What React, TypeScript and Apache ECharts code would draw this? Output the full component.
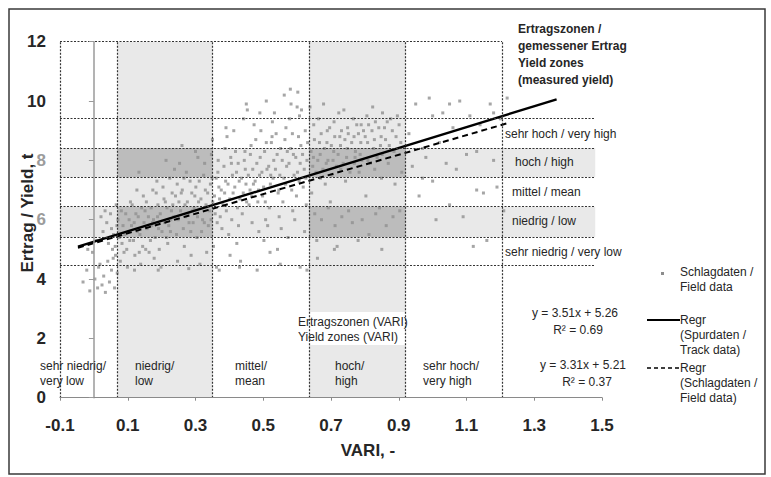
import React, { useEffect, useRef } from "react";
import * as echarts from "echarts";

// ---------- data ----------
const fieldData: [number, number][] = [
  // VARI < 0.07
  [-0.032, 3.9], [-0.021, 4.3], [-0.012, 3.6], [0.003, 4.0], [0.011, 3.7], [0.018, 4.5], [0.024, 3.8], [0.029, 4.1],
  [0.034, 3.55], [0.041, 4.6], [0.046, 3.9], [0.052, 4.3], [0.055, 5.0], [0.061, 3.7], [0.064, 4.8], [-0.004, 4.9],
  [0.008, 5.3], [0.027, 5.6], [0.038, 5.9], [0.049, 6.2], [0.058, 5.5], [0.021, 6.1], [0.066, 6.5], [0.043, 5.2],
  [0.057, 4.7], [-0.018, 5.0], [0.069, 4.2], [0.068, 5.8], [0.014, 4.4], [0.033, 6.3],
  // 0.07 - 0.35
  [0.078, 4.6], [0.083, 5.2], [0.086, 5.8], [0.081, 6.3], [0.089, 4.9],
  [0.097, 5.0], [0.102, 5.6], [0.104, 6.0], [0.099, 4.4], [0.108, 6.6],
  [0.117, 5.3], [0.121, 4.8], [0.124, 6.2], [0.119, 5.9], [0.127, 7.0],
  [0.136, 5.5], [0.141, 6.4], [0.138, 4.5], [0.144, 5.1], [0.146, 6.8], [0.133, 7.6],
  [0.157, 5.7], [0.161, 6.1], [0.163, 4.9], [0.155, 6.6], [0.167, 5.3],
  [0.176, 6.0], [0.181, 5.4], [0.184, 6.9], [0.178, 4.7], [0.186, 7.3], [0.173, 5.9],
  [0.196, 6.2], [0.201, 5.6], [0.204, 7.1], [0.198, 4.4], [0.207, 6.7], [0.193, 5.0],
  [0.216, 6.4], [0.221, 5.8], [0.224, 7.4], [0.218, 5.2], [0.227, 6.0], [0.213, 8.0],
  [0.236, 6.1], [0.241, 6.8], [0.244, 5.5], [0.238, 7.7], [0.247, 4.6], [0.233, 6.5],
  [0.256, 6.3], [0.261, 7.0], [0.264, 5.7], [0.258, 6.9], [0.267, 5.1], [0.253, 7.9],
  [0.276, 6.6], [0.281, 5.9], [0.284, 7.3], [0.278, 6.2], [0.287, 4.8], [0.273, 7.6],
  [0.296, 6.4], [0.301, 7.1], [0.304, 5.4], [0.298, 6.8], [0.307, 8.1], [0.293, 5.9],
  [0.316, 6.7], [0.321, 6.0], [0.324, 7.5], [0.318, 5.6], [0.327, 7.9], [0.313, 4.5],
  [0.336, 6.9], [0.341, 6.3], [0.344, 7.2], [0.338, 5.8], [0.347, 8.2], [0.333, 4.9],
  // 0.35 - 0.635
  [0.356, 6.8], [0.361, 7.4], [0.364, 5.9], [0.358, 6.2], [0.367, 8.0], [0.353, 5.1], [0.362, 4.4],
  [0.376, 7.0], [0.381, 6.5], [0.384, 7.8], [0.378, 5.7], [0.387, 8.4], [0.373, 6.1],
  [0.396, 7.2], [0.401, 6.7], [0.404, 8.1], [0.398, 5.5], [0.407, 6.0], [0.393, 8.8], [0.402, 4.8],
  [0.416, 7.1], [0.421, 7.6], [0.424, 6.4], [0.418, 8.3], [0.427, 5.8], [0.413, 9.0], [0.422, 5.2],
  [0.436, 7.4], [0.441, 6.9], [0.444, 8.0], [0.438, 6.2], [0.447, 7.7], [0.433, 4.6], [0.442, 9.4],
  [0.456, 7.5], [0.461, 7.0], [0.464, 8.5], [0.458, 6.5], [0.467, 5.9], [0.453, 9.7], [0.462, 8.2],
  [0.476, 7.3], [0.481, 7.9], [0.484, 6.6], [0.478, 8.7], [0.487, 5.6], [0.473, 9.2], [0.482, 4.3],
  [0.496, 7.6], [0.501, 7.1], [0.504, 8.3], [0.498, 6.8], [0.507, 6.0], [0.493, 9.0], [0.502, 5.3], [0.509, 10.0],
  [0.516, 7.8], [0.521, 7.2], [0.524, 8.6], [0.518, 6.4], [0.527, 9.3], [0.513, 5.8], [0.522, 7.5],
  [0.536, 7.7], [0.541, 8.2], [0.544, 6.9], [0.538, 8.9], [0.547, 6.1], [0.533, 9.6], [0.542, 5.0],
  [0.556, 8.0], [0.561, 7.4], [0.564, 8.7], [0.558, 6.6], [0.567, 9.1], [0.553, 5.7], [0.562, 10.2],
  [0.576, 7.9], [0.581, 8.4], [0.584, 7.0], [0.578, 9.4], [0.587, 6.3], [0.573, 5.4], [0.582, 9.9],
  [0.596, 8.1], [0.601, 7.6], [0.604, 8.8], [0.598, 6.8], [0.607, 9.5], [0.593, 6.0], [0.602, 10.3], [0.609, 4.4],
  [0.616, 8.2], [0.621, 7.7], [0.624, 9.0], [0.618, 7.1], [0.627, 6.5], [0.613, 9.7], [0.622, 5.6], [0.629, 4.3],
  // 0.635 - 0.92
  [0.641, 8.3], [0.646, 7.8], [0.649, 9.2], [0.643, 6.9], [0.652, 6.2], [0.638, 9.8],
  [0.661, 8.0], [0.666, 8.6], [0.669, 7.4], [0.663, 9.4], [0.672, 6.0], [0.658, 5.3],
  [0.681, 8.4], [0.686, 7.9], [0.689, 9.0], [0.683, 7.2], [0.692, 6.4], [0.678, 9.9],
  [0.701, 8.5], [0.706, 8.0], [0.709, 9.3], [0.703, 7.5], [0.712, 5.8], [0.698, 6.6],
  [0.721, 8.2], [0.726, 8.8], [0.729, 7.7], [0.723, 9.6], [0.732, 6.1], [0.718, 5.1],
  [0.741, 8.7], [0.746, 8.1], [0.749, 9.1], [0.743, 7.3], [0.752, 6.3], [0.738, 9.7],
  [0.761, 8.6], [0.766, 9.4], [0.769, 7.9], [0.763, 5.9], [0.772, 8.3],
  [0.781, 8.9], [0.786, 8.2], [0.789, 9.2], [0.783, 7.6], [0.792, 6.0],
  [0.801, 8.8], [0.806, 9.5], [0.809, 8.0], [0.803, 6.8], [0.812, 5.5],
  [0.821, 9.0], [0.826, 8.4], [0.829, 7.7], [0.823, 9.8], [0.832, 6.2],
  [0.841, 9.1], [0.846, 8.5], [0.849, 7.4], [0.843, 6.4], [0.852, 9.6],
  [0.861, 8.7], [0.866, 9.3], [0.869, 7.9], [0.863, 5.8],
  [0.881, 9.0], [0.886, 8.3], [0.889, 7.2], [0.883, 6.1],
  [0.901, 9.2], [0.906, 8.6], [0.909, 7.6], [0.903, 6.3],
  // > 0.92
  [0.93, 8.9], [0.94, 7.8], [0.95, 9.9], [0.96, 6.8], [0.97, 8.4], [0.98, 8.1], [0.99, 10.1], [1.0, 7.3],
  [1.01, 6.0], [1.02, 8.6], [1.03, 9.6], [1.04, 7.9], [1.05, 6.5], [1.06, 9.1], [1.07, 7.7], [1.08, 10.0],
  [1.09, 6.1], [1.1, 8.2], [1.11, 9.5], [1.12, 5.1], [1.13, 7.0], [1.14, 9.2], [1.15, 6.9], [1.16, 5.3],
  [1.17, 9.9], [1.18, 8.0], [1.19, 7.1], [1.2, 9.4], [1.21, 6.3], [1.22, 10.1], [1.05, 9.9], [0.97, 7.4],
  [1.0, 9.5], [1.13, 8.3], [1.18, 9.6],
  // dense core, second pass
  [0.052, 5.7], [0.063, 5.1], [0.071, 6.0], [0.075, 5.4], [0.091, 5.5], [0.094, 6.2], [0.106, 5.3], [0.111, 5.8],
  [0.113, 6.5], [0.128, 5.6], [0.131, 6.1], [0.134, 4.9], [0.148, 5.9], [0.151, 6.3], [0.153, 5.0], [0.169, 6.4],
  [0.171, 5.8], [0.174, 7.0], [0.188, 6.1], [0.191, 5.7], [0.189, 6.5], [0.209, 5.9], [0.211, 6.6], [0.214, 5.4],
  [0.229, 6.3], [0.231, 6.9], [0.226, 5.6], [0.249, 6.0], [0.251, 6.6], [0.246, 7.2], [0.269, 6.5], [0.271, 6.1],
  [0.266, 7.4], [0.289, 6.9], [0.291, 6.3], [0.286, 5.6], [0.309, 6.6], [0.311, 7.3], [0.306, 6.1], [0.329, 7.0],
  [0.331, 6.5], [0.326, 5.9], [0.349, 7.4], [0.351, 6.6], [0.346, 6.0],
  [0.369, 7.1], [0.371, 6.7], [0.366, 7.6], [0.389, 7.3], [0.391, 6.3], [0.386, 6.9], [0.409, 7.5], [0.411, 6.9],
  [0.406, 7.9], [0.429, 7.3], [0.431, 6.7], [0.426, 7.9], [0.449, 7.2], [0.451, 6.6], [0.446, 8.3], [0.469, 7.7],
  [0.471, 7.2], [0.466, 6.8], [0.489, 7.5], [0.491, 8.1], [0.486, 7.0], [0.511, 7.7], [0.509, 8.6], [0.506, 6.6],
  [0.529, 7.4], [0.531, 8.0], [0.526, 8.8], [0.549, 7.5], [0.551, 8.4], [0.546, 7.0], [0.569, 7.8], [0.571, 8.3],
  [0.566, 7.2], [0.589, 8.2], [0.591, 7.5], [0.586, 8.9], [0.609, 7.9], [0.611, 8.5], [0.606, 7.3], [0.629, 8.0],
  [0.631, 8.6], [0.626, 7.4],
  [0.648, 8.1], [0.651, 8.7], [0.656, 7.6], [0.668, 8.2], [0.671, 8.9], [0.676, 7.7], [0.688, 8.6], [0.691, 8.0],
  [0.696, 9.1], [0.708, 8.3], [0.711, 8.8], [0.716, 7.8], [0.728, 8.5], [0.731, 9.0], [0.736, 7.9], [0.748, 8.4],
  [0.751, 8.9], [0.756, 7.6], [0.768, 8.8], [0.771, 8.1], [0.776, 9.2], [0.788, 8.6], [0.791, 8.0], [0.796, 9.0],
  [0.808, 8.6], [0.811, 9.2], [0.816, 7.9], [0.828, 8.7], [0.831, 9.3], [0.836, 8.1], [0.848, 8.8], [0.851, 8.2],
  [0.858, 9.1], [0.872, 8.5], [0.876, 9.4], [0.892, 8.8], [0.896, 9.5],
  [0.12, 4.3], [0.19, 4.3], [0.28, 4.35], [0.37, 4.3], [0.43, 4.4], [0.55, 4.5], [0.3, 8.3], [0.26, 8.5],
  [0.39, 9.1], [0.45, 9.9], [0.58, 10.4], [0.49, 9.6], [0.6, 9.8], [0.35, 8.7], [0.52, 4.9], [0.66, 4.7],
  [0.71, 5.0], [0.78, 5.3], [0.85, 5.0],
];

// zone boundaries (VARI) and yield zone boundaries
const variZones = [-0.1, 0.07, 0.35, 0.635, 0.92, 1.205];
const yieldZones = [4.45, 5.42, 6.44, 7.44, 8.42, 9.42];
const yieldZoneRight = 1.48;

// regression equations (as printed on chart)
const regTrack = { slope: 3.51, intercept: 5.26, from: -0.047, to: 1.366 };
const regField = { slope: 3.31, intercept: 5.21, from: -0.047, to: 1.218 };

const xTicks = { min: -0.1, max: 1.5, step: 0.2 };
const yTicks = { min: 0, max: 12, step: 2 };

const yieldLabels = [
  "sehr hoch / very high",
  "hoch / high",
  "mittel / mean",
  "niedrig / low",
  "sehr niedrig / very low",
];
const variLabels = [
  ["sehr niedrig/", "very low"],
  ["niedrig/", "low"],
  ["mittel/", "mean"],
  ["hoch/", "high"],
  ["sehr hoch/", "very high"],
];

// ---------- styling ----------
const FONT = "'Liberation Sans', Arial, sans-serif";
const LIGHT = "#e9e9e9";
const DARK = "#bcbcbc";
const TXT = "#262626";

function txt(x: number, y: number, text: string, opts: any = {}) {
  return {
    type: "text",
    x,
    y,
    z: 100,
    silent: true,
    style: {
      text,
      fill: opts.fill || TXT,
      fontSize: opts.fontSize || 12,
      fontWeight: opts.fontWeight || "normal",
      fontFamily: FONT,
      align: opts.align || "left",
      verticalAlign: "middle",
    },
    rotation: opts.rotation || 0,
  };
}

export default function App() {
  const ref = useRef<HTMLDivElement>(null);

  useEffect(() => {
    if (!ref.current) return;
    const chart = echarts.init(ref.current, undefined, { renderer: "svg" });

    const [vx0, vx1, vx2, vx3, vx4, vx5] = variZones;
    const lightAreas: any[] = [
      [{ xAxis: vx1, yAxis: yTicks.min }, { xAxis: vx2, yAxis: yTicks.max }],
      [{ xAxis: vx3, yAxis: yTicks.min }, { xAxis: vx4, yAxis: yTicks.max }],
      [{ xAxis: vx0, yAxis: yieldZones[1] }, { xAxis: yieldZoneRight, yAxis: yieldZones[2] }],
      [{ xAxis: vx0, yAxis: yieldZones[3] }, { xAxis: yieldZoneRight, yAxis: yieldZones[4] }],
    ].map((p) => [{ ...p[0], itemStyle: { color: LIGHT } }, p[1]]);
    const darkAreas: any[] = [];
    [[vx1, vx2], [vx3, vx4]].forEach(([a, b]) => {
      [[yieldZones[1], yieldZones[2]], [yieldZones[3], yieldZones[4]]].forEach(([c, d]) => {
        darkAreas.push([{ xAxis: a, yAxis: c, itemStyle: { color: DARK } }, { xAxis: b, yAxis: d }]);
      });
    });

    const gridLines: any[] = [];
    variZones.forEach((x) => gridLines.push([{ coord: [x, yTicks.min] }, { coord: [x, yTicks.max] }]));
    yieldZones.forEach((y) => gridLines.push([{ coord: [vx0, y] }, { coord: [yieldZoneRight, y] }]));
    gridLines.push([{ coord: [vx0, yTicks.max] }, { coord: [vx5, yTicks.max] }]);
    gridLines.push([{ coord: [vx0, yTicks.min] }, { coord: [vx5, yTicks.min] }]);

    const regLine = (r: any) => [
      [r.from, r.slope * r.from + r.intercept],
      [r.to, r.slope * r.to + r.intercept],
    ];

    const graphics: any[] = [
      {
        type: "rect",
        z: 100,
        silent: true,
        shape: { x: 9, y: 9, width: 756, height: 465 },
        style: { fill: "none", stroke: "#3a3a3a", lineWidth: 1.5 },
      },
      // white box behind VARI zone heading
      {
        type: "rect",
        z: 1.5,
        silent: true,
        shape: { x: 296, y: 312, width: 124, height: 33 },
        style: { fill: "#ffffff" },
      },
      txt(27, 213, "Ertrag / Yield, t", { fontSize: 17, fontWeight: "bold", align: "center", rotation: Math.PI / 2 }),
      txt(368, 450, "VARI, -", { fontSize: 17, fontWeight: "bold", align: "center" }),
      txt(518, 29, "Ertragszonen /", { fontWeight: "bold" }),
      txt(518, 46, "gemessener Ertrag", { fontWeight: "bold" }),
      txt(518, 63, "Yield zones", { fontWeight: "bold" }),
      txt(518, 80, "(measured yield)", { fontWeight: "bold" }),
      txt(505, 134, yieldLabels[0]),
      txt(515, 162, yieldLabels[1]),
      txt(512, 192, yieldLabels[2]),
      txt(512, 221, yieldLabels[3]),
      txt(505, 252, yieldLabels[4]),
      txt(298, 322, "Ertragszonen (VARI)"),
      txt(298, 337, "Yield zones (VARI)"),
      txt(575, 313, "y = 3.51x + 5.26", { align: "center" }),
      txt(578, 330, "R² = 0.69", { align: "center" }),
      txt(583, 365, "y = 3.31x + 5.21", { align: "center" }),
      txt(587, 382, "R² = 0.37", { align: "center" }),
      // legend
      {
        type: "rect",
        z: 100,
        silent: true,
        shape: { x: 661, y: 272, width: 3, height: 3 },
        style: { fill: "#8c8c8c" },
      },
      txt(680, 272, "Schlagdaten /"),
      txt(680, 287, "Field data"),
      {
        type: "line",
        z: 100,
        silent: true,
        shape: { x1: 647, y1: 320, x2: 680, y2: 320 },
        style: { stroke: "#000", lineWidth: 2 },
      },
      txt(680, 320, "Regr"),
      txt(680, 335, "(Spurdaten /"),
      txt(680, 350, "Track data)"),
      {
        type: "line",
        z: 100,
        silent: true,
        shape: { x1: 647, y1: 368, x2: 680, y2: 368 },
        style: { stroke: "#000", lineWidth: 1.5, lineDash: [4, 3] },
      },
      txt(680, 368, "Regr"),
      txt(680, 383, "(Schlagdaten /"),
      txt(680, 398, "Field data)"),
    ];
    const variLabelX = [40, 135, 235, 335, 423];
    variLabels.forEach((lines, i) => {
      graphics.push(txt(variLabelX[i], 366, lines[0]));
      graphics.push(txt(variLabelX[i], 381, lines[1]));
    });

    chart.setOption({
      animation: false,
      textStyle: { fontFamily: FONT },
      grid: { left: 60, right: 169, top: 41.7, bottom: 79.3, containLabel: false },
      xAxis: {
        type: "value",
        min: xTicks.min,
        max: xTicks.max,
        interval: xTicks.step,
        z: 5,
        axisLine: { show: true, onZero: false, lineStyle: { color: "#8a8a8a", width: 1.2 } },
        axisTick: { show: true, length: 3, lineStyle: { color: "#8a8a8a" } },
        axisLabel: {
          margin: 19,
          fontSize: 17,
          fontWeight: "bold",
          color: TXT,
          fontFamily: FONT,
          formatter: (v: number) => v.toFixed(1),
        },
        splitLine: { show: false },
      },
      yAxis: {
        type: "value",
        min: yTicks.min,
        max: yTicks.max,
        interval: yTicks.step,
        z: 5,
        axisLine: { show: true, onZero: true, lineStyle: { color: "#9a9a9a", width: 1.5 } },
        axisTick: { show: true, length: 5, lineStyle: { color: "#9a9a9a" } },
        axisLabel: {
          margin: 14,
          fontSize: 17,
          fontWeight: "bold",
          color: TXT,
          fontFamily: FONT,
          formatter: (v: number) => (v === 6 || v === 8 ? `{g|${v}}` : `${v}`),
          rich: { g: { color: "#9c9c9c", fontSize: 17, fontWeight: "bold", fontFamily: FONT } },
        },
        splitLine: { show: false },
      },
      series: [
        {
          type: "line",
          name: "zones",
          data: [],
          z: 1,
          silent: true,
          markArea: { silent: true, data: [...lightAreas, ...darkAreas] },
        },
        {
          type: "line",
          name: "zoneLines",
          data: [],
          z: 2,
          silent: true,
          markLine: {
            silent: true,
            symbol: ["none", "none"],
            label: { show: false },
            lineStyle: { color: "#333", width: 1.2, type: [2, 1.5] },
            data: gridLines,
          },
        },
        {
          type: "scatter",
          name: "Schlagdaten / Field data",
          data: fieldData,
          z: 3,
          symbol: "rect",
          symbolSize: 3,
          itemStyle: { color: "#909090" },
          silent: true,
        },
        {
          type: "line",
          name: "Regr (Schlagdaten / Field data)",
          data: regLine(regField),
          z: 4,
          showSymbol: false,
          symbol: "none",
          lineStyle: { color: "#000", width: 2, type: [6, 4] },
          silent: true,
        },
        {
          type: "line",
          name: "Regr (Spurdaten / Track data)",
          data: regLine(regTrack),
          z: 4,
          showSymbol: false,
          symbol: "none",
          lineStyle: { color: "#000", width: 2.4 },
          silent: true,
        },
      ],
      graphic: graphics,
    });

    return () => chart.dispose();
  }, []);

  return (
    <div
      ref={ref}
      style={{ position: "fixed", left: 0, top: 0, width: 771, height: 477, background: "#fff" }}
    />
  );
}
